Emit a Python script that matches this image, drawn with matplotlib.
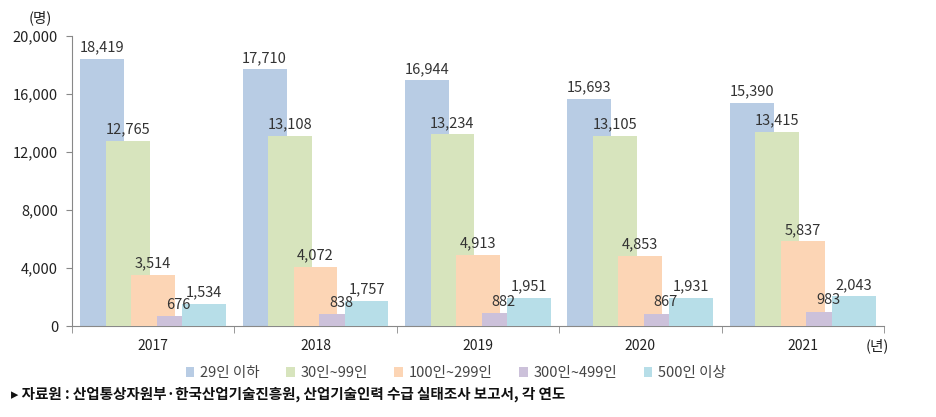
import numpy as np
import matplotlib.pyplot as plt
from matplotlib.patches import Patch

plt.rcParams['font.family'] = ['Noto Sans CJK KR', 'DejaVu Sans']

years = ['2017', '2018', '2019', '2020', '2021']
series = ['29인 이하', '30인~99인', '100인~299인', '300인~499인', '500인 이상']
v_29 = [18419, 17710, 16944, 15693, 15390]
v_30_99 = [12765, 13108, 13234, 13105, 13415]
v_100_299 = [3514, 4072, 4913, 4853, 5837]
v_300_499 = [676, 838, 882, 867, 983]
v_500 = [1534, 1757, 1951, 1931, 2043]
values = [v_29, v_30_99, v_100_299, v_300_499, v_500]
colors = ['#b8cce4', '#d7e4bd', '#fcd5b5', '#ccc1da', '#b7dee8']

fig = plt.figure(figsize=(9.36, 4.17), dpi=100)
ax = fig.add_axes([0.0769, 0.218, 0.8675, 0.6954])

x = np.arange(len(years))
width = 0.27
step = 0.157
txt = '#333333'
for i, (vals, c) in enumerate(zip(values, colors)):
    pos = x + (i - 2) * step
    ax.bar(pos, vals, width=width, color=c, zorder=2 + i, linewidth=0)
    for p, v in zip(pos, vals):
        ax.text(p, v + 300, f'{v:,}', ha='center', va='bottom', fontsize=10.5,
                color=txt, zorder=10)

ax.set_xlim(-0.5, len(years) - 0.5)
ax.set_ylim(0, 20000)
ax.set_yticks(np.arange(0, 20001, 4000))
ax.set_yticklabels([f'{t:,}' for t in range(0, 20001, 4000)], fontsize=10.5, color='#222222')
ax.set_xticks(x)
ax.set_xticklabels(years, fontsize=10, color='#222222')
ax.set_xticks(np.arange(-0.5, len(years)), minor=True)
ax.tick_params(axis='x', which='major', length=0, pad=9)
ax.tick_params(axis='x', which='minor', length=5, color='#888888')
ax.tick_params(axis='y', length=4, color='#888888', pad=6)
for s in ['top', 'right']:
    ax.spines[s].set_visible(False)
ax.spines['left'].set_color('#888888')
ax.spines['bottom'].set_color('#888888')

fig.text(0.043, 0.958, '(명)', fontsize=10.5, ha='center', va='center', color='#222222')
fig.text(0.937, 0.170, '(년)', fontsize=10.5, ha='center', va='center', color='#222222')

handles = [Patch(facecolor=c, edgecolor='none') for c in colors]
fig.legend(handles, series, loc='center', bbox_to_anchor=(0.487, 0.105), ncol=5,
           frameon=False, fontsize=10.5, handlelength=0.6, handleheight=0.6,
           handletextpad=0.4, columnspacing=1.8, labelcolor='#444444')

fig.text(0.012, 0.055, '▸ 자료원 : 산업통상자원부·한국산업기술진흥원, 산업기술인력 수급 실태조사 보고서, 각 연도',
         fontsize=10.5, fontweight='bold', ha='left', va='center', color='#111111')

fig.savefig('out.png', dpi=100)
